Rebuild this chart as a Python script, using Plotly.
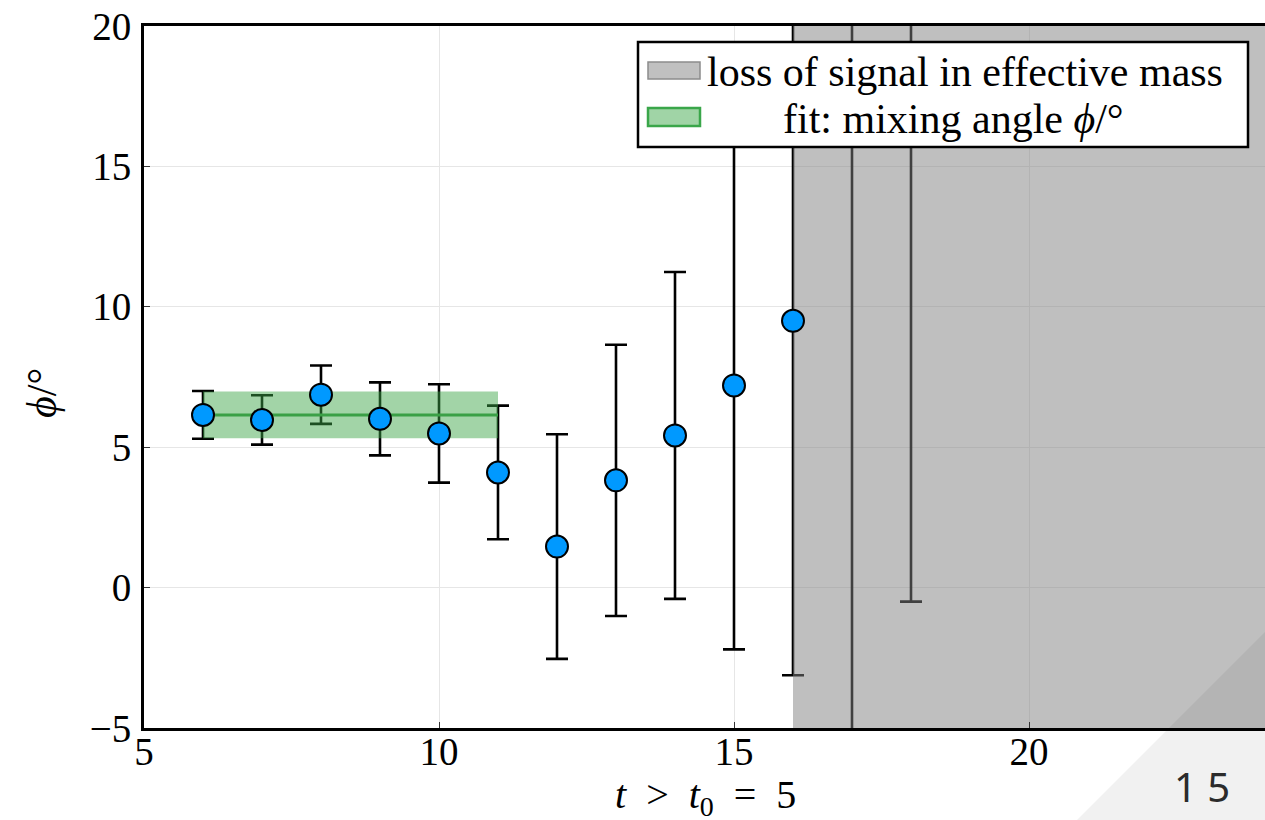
import plotly.graph_objects as go

# ---- data ----
t_vals = [6, 7, 8, 9, 10, 11, 12, 13, 14, 15, 16, 17, 18]
phi_vals = [6.15, 5.97, 6.87, 6.01, 5.49, 4.10, 1.46, 3.82, 5.42, 7.20, 9.50, 22.0, 25.0]
phi_err = [0.85, 0.88, 1.04, 1.30, 1.75, 2.38, 4.00, 4.83, 5.82, 9.40, 12.62, 30.0, 25.5]

fit_range = [6, 11]
fit_value = 6.15
fit_err = 0.83

loss_start = 16
loss_end = 30

x_ticks = [5, 10, 15, 20]
y_ticks = [-5, 0, 5, 10, 15, 20]

legend_labels = ["loss of signal in effective mass", "fit: mixing angle <i>ϕ</i>/°"]
x_title = "<i>t</i>  &gt;  <i>t</i><sub>0</sub>  =  5"
y_title = "<i>ϕ</i>/°"
page_number = "1 5"

W, H = 1265, 820
L, R, T, B = 144, 0, 26, 92
PW, PH = W - L - R, H - T - B


def px(xp):
    return (xp - L) / PW


def py(yp):
    return (H - B - yp) / PH


SERIF = "Liberation Serif"

fig = go.Figure()

# error bars (drawn under overlays)
fig.add_trace(go.Scatter(
    x=t_vals, y=phi_vals, mode="markers",
    marker=dict(size=1, color="rgba(0,0,0,0)"),
    error_y=dict(type="data", array=phi_err, visible=True,
                 color="black", thickness=2.6, width=11),
    showlegend=False, hoverinfo="skip"))

# fit band
fig.add_trace(go.Scatter(
    x=[fit_range[0], fit_range[1], fit_range[1], fit_range[0], fit_range[0]],
    y=[fit_value - fit_err, fit_value - fit_err, fit_value + fit_err,
       fit_value + fit_err, fit_value - fit_err],
    fill="toself", fillcolor="rgba(60,165,72,0.48)",
    line=dict(width=0), mode="lines", showlegend=False, hoverinfo="skip"))
fig.add_trace(go.Scatter(
    x=fit_range, y=[fit_value, fit_value], mode="lines",
    line=dict(color="rgb(58,160,70)", width=3),
    showlegend=False, hoverinfo="skip"))

# loss-of-signal region
fig.add_trace(go.Scatter(
    x=[loss_start, loss_end, loss_end, loss_start, loss_start],
    y=[-50, -50, 50, 50, -50],
    fill="toself", fillcolor="rgba(128,128,128,0.5)",
    line=dict(width=0), mode="lines", showlegend=False, hoverinfo="skip"))

# markers on top
fig.add_trace(go.Scatter(
    x=t_vals, y=phi_vals, mode="markers",
    marker=dict(size=22, color="#0099ff", line=dict(color="black", width=2)),
    showlegend=False))

shapes = []
annotations = []

# legend box
shapes.append(dict(type="rect", xref="paper", yref="paper",
                   x0=px(638), x1=px(1248), y0=py(147), y1=py(42),
                   fillcolor="white", line=dict(color="black", width=2.5),
                   layer="above"))
shapes.append(dict(type="rect", xref="paper", yref="paper",
                   x0=px(648), x1=px(700), y0=py(79), y1=py(62),
                   fillcolor="#c0c0c0", line=dict(color="#8c8c8c", width=1.5),
                   layer="above"))
shapes.append(dict(type="rect", xref="paper", yref="paper",
                   x0=px(648), x1=px(700), y0=py(126), y1=py(108),
                   fillcolor="#a0d4a6", line=dict(color="#3aa64a", width=2.5),
                   layer="above"))
annotations.append(dict(xref="paper", yref="paper", x=px(705), y=py(72),
                        xanchor="left", yanchor="middle", showarrow=False,
                        text=legend_labels[0],
                        font=dict(family=SERIF, size=42, color="black")))
annotations.append(dict(xref="paper", yref="paper", x=px(781), y=py(119),
                        xanchor="left", yanchor="middle", showarrow=False,
                        text=legend_labels[1],
                        font=dict(family=SERIF, size=42, color="black")))

# axis titles
annotations.append(dict(xref="paper", yref="paper", x=px(705), y=py(797),
                        xanchor="center", yanchor="middle", showarrow=False,
                        text=x_title,
                        font=dict(family=SERIF, size=40, color="black")))
annotations.append(dict(xref="paper", yref="paper", x=px(42), y=py(393),
                        xanchor="center", yanchor="middle", showarrow=False,
                        text=y_title, textangle=-90,
                        font=dict(family=SERIF, size=42, color="black")))

# page corner decoration
shapes.append(dict(type="path", xref="paper", yref="paper",
                   path=f"M {px(1077)},{py(820)} L {px(1265)},{py(632)} L {px(1265)},{py(820)} Z",
                   fillcolor="rgba(0,0,0,0.055)", line=dict(width=0), layer="above"))
annotations.append(dict(xref="paper", yref="paper", x=px(1202), y=py(786),
                        xanchor="center", yanchor="middle", showarrow=False,
                        text=page_number,
                        font=dict(family="Noto Sans", size=40, color="#2b2b2b")))

fig.update_layout(
    width=W, height=H,
    margin=dict(l=L, r=R, t=T, b=B, pad=0),
    paper_bgcolor="white", plot_bgcolor="white",
    font=dict(family=SERIF, size=38, color="black"),
    shapes=shapes, annotations=annotations,
    showlegend=False,
)
fig.update_xaxes(
    range=[5, 24], tickvals=x_ticks, ticks="inside", ticklen=6,
    tickcolor="#333", tickwidth=1.2,
    showgrid=True, gridcolor="#e6e6e6", gridwidth=1,
    showline=True, linecolor="black", linewidth=3, mirror=True,
    zeroline=False, ticklabelstandoff=-13,
    tickfont=dict(family=SERIF, size=39),
)
fig.update_yaxes(
    range=[-5, 20], tickvals=y_ticks, ticks="inside", ticklen=6,
    tickcolor="#333", tickwidth=1.2,
    showgrid=True, gridcolor="#e6e6e6", gridwidth=1,
    showline=True, linecolor="black", linewidth=3, mirror=False,
    zeroline=False, ticklabelstandoff=2,
    tickfont=dict(family=SERIF, size=39),
)

fig.write_html(
    "out.html",
    config={"displayModeBar": False},
    post_script="document.body.style.margin='0';document.body.style.overflow='hidden';",
)
